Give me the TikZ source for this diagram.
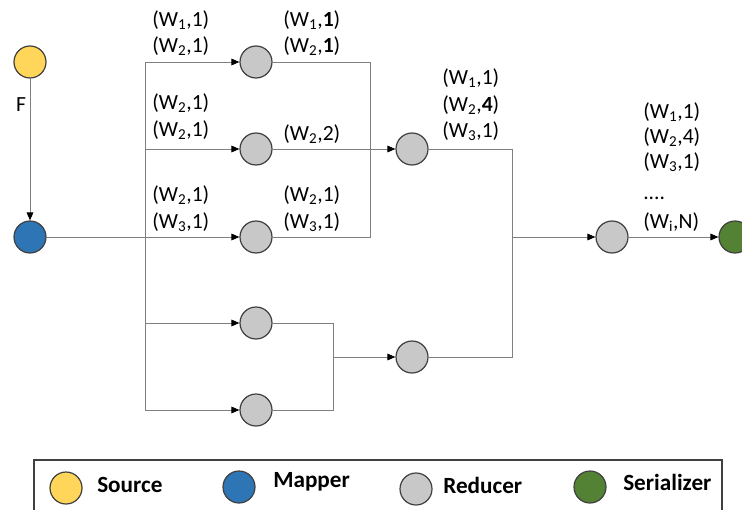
\documentclass[tikz,border=0pt]{standalone}
\usepackage{fontspec}
\setmainfont{Carlito}
\usetikzlibrary{arrows.meta}
\definecolor{srcyel}{RGB}{255,214,90}
\definecolor{mapblue}{RGB}{46,117,182}
\definecolor{redgray}{RGB}{200,200,200}
\definecolor{sergreen}{RGB}{84,130,53}
\tikzset{nd/.style={circle,draw=black!75,line width=0.9pt,minimum size=24pt,inner sep=0pt},
 srcn/.style={nd,fill=srcyel},mapn/.style={nd,fill=mapblue},redn/.style={nd,fill=redgray},sern/.style={nd,fill=sergreen},
 wire/.style={draw=black!50,line width=0.7pt},
 flow/.style={wire,-{Triangle[length=6pt,width=5pt,color=black]}},
 lab/.style={anchor=west,inner sep=0pt},
 key/.style={anchor=base west,inner sep=0pt,font=\bfseries\fontsize{17.4}{20}\selectfont}}
\begin{document}
\begin{tikzpicture}[x=0.75pt,y=-0.75pt,font=\fontsize{16.2}{19}\selectfont]
\useasboundingbox (0,0) rectangle (742,510);
% nodes
\node[srcn](src) at (30,62){}; \node[mapn](map) at (30,237){};
\foreach \i/\y in {1/62,2/149,3/237,4/323,5/410}{\node[redn](r\i) at (256,\y){};}
\node[redn](rm) at (412,149){}; \node[redn](r6) at (412,357){};
\node[redn](rf) at (612,237){}; \node[sern](ser) at (735,237){};
% connectors
\coordinate (bt) at (145,62); \coordinate (bb) at (145,410);
\coordinate (ja) at (370,62); \coordinate (jb) at (512,149); \coordinate (jc) at (333,323);
\draw[flow](src)--(map); \draw[flow](map)--(r3); \draw[wire](bt)--(bb);
\foreach \i in {1,2,4,5}{\draw[flow](bt|-r\i)--(r\i);}
\draw[wire](r1)--(ja)|-(r3); \draw[flow](r2)--(rm);
\draw[wire](r4)--(jc)|-(r5); \draw[flow](jc|-r6)--(r6);
\draw[wire](rm)--(jb)|-(r6); \draw[flow](jb|-rf)--(rf); \draw[flow](rf)--(ser);
% labels
\node (f) at (21,105){F};
\foreach \x/\y/\t [count=\n] in {152/20/{(W\textsubscript{1},1)},152/46/{(W\textsubscript{2},1)},
 283/20/{(W\textsubscript{1},\textbf{1})},283/46/{(W\textsubscript{2},\textbf{1})},
 152/103/{(W\textsubscript{2},1)},152/130/{(W\textsubscript{2},1)},283/134/{(W\textsubscript{2},2)},
 152/195/{(W\textsubscript{2},1)},152/222/{(W\textsubscript{3},1)},
 283/195/{(W\textsubscript{2},1)},283/222/{(W\textsubscript{3},1)},
 442/78/{(W\textsubscript{1},1)},442/105/{(W\textsubscript{2},\textbf{4})},442/131/{(W\textsubscript{3},1)},
 643/112/{(W\textsubscript{1},1)},643/137/{(W\textsubscript{2},4)},643/162/{(W\textsubscript{3},1)},
 643/222/{(W\textsubscript{i},N)}}{\node[lab](w\n) at (\x,\y){\t};}
\node[lab,anchor=base west](dots) at (643,199){....};
% legend
\draw[line width=1pt,draw=black!75](34,460) rectangle (722,516);
\node[srcn](ks) at (66,488){}; \node[key](kst) at (97,492){Source};
\node[mapn](km) at (239,487){}; \node[key](kmt) at (273,487){Mapper};
\node[redn](kr) at (416,489){}; \node[key](krt) at (443,493){Reducer};
\node[sern](kz) at (590,487){}; \node[key](kzt) at (623,490){Serializer};
\end{tikzpicture}
\end{document}
